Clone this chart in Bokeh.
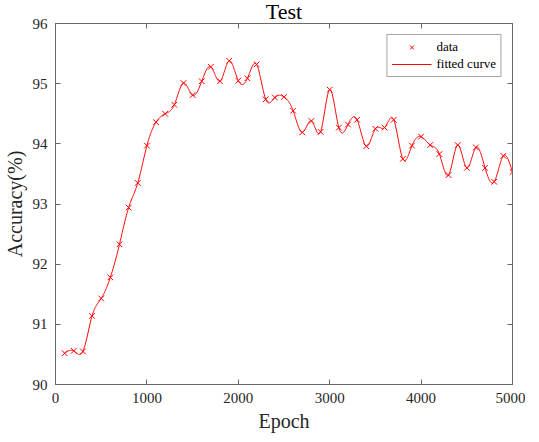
import numpy as np
from bokeh.plotting import figure
from bokeh.models import (LinearAxis, FixedTicker, Range1d, Legend, LegendItem)
from bokeh.embed import file_html
from bokeh.resources import INLINE

# ---- data ----
epochs = [100, 200, 300, 400, 500, 600, 700, 800, 900, 1000,
          1100, 1200, 1300, 1400, 1500, 1600, 1700, 1800, 1900, 2000,
          2100, 2200, 2300, 2400, 2500, 2600, 2700, 2800, 2900, 3000,
          3100, 3200, 3300, 3400, 3500, 3600, 3700, 3800, 3900, 4000,
          4100, 4200, 4300, 4400, 4500, 4600, 4700, 4800, 4900, 5000]
accuracy = [90.52, 90.56, 90.55, 91.14, 91.43, 91.78, 92.33, 92.94, 93.35, 93.97,
            94.36, 94.50, 94.65, 95.01, 94.81, 95.04, 95.28, 95.04, 95.38, 95.05,
            95.09, 95.32, 94.74, 94.77, 94.78, 94.55, 94.19, 94.38, 94.20, 94.90,
            94.27, 94.32, 94.40, 93.96, 94.25, 94.27, 94.40, 93.75, 93.97, 94.12,
            93.98, 93.83, 93.48, 93.98, 93.60, 93.94, 93.60, 93.37, 93.80, 93.53]
x_ticks = [0, 1000, 2000, 3000, 4000, 5000]
y_ticks = [90, 91, 92, 93, 94, 95, 96]
title_text = "Test"


def cubic_spline(x, y, xs):
    """Natural cubic interpolating spline through the data points."""
    x = np.asarray(x, float)
    y = np.asarray(y, float)
    n = len(x)
    h = np.diff(x)
    A = np.zeros((n, n))
    b = np.zeros(n)
    A[0, 0] = 1.0
    A[-1, -1] = 1.0
    for i in range(1, n - 1):
        A[i, i - 1] = h[i - 1]
        A[i, i] = 2 * (h[i - 1] + h[i])
        A[i, i + 1] = h[i]
        b[i] = 3 * ((y[i + 1] - y[i]) / h[i] - (y[i] - y[i - 1]) / h[i - 1])
    c = np.linalg.solve(A, b)
    bc = (y[1:] - y[:-1]) / h - h * (2 * c[:-1] + c[1:]) / 3
    d = (c[1:] - c[:-1]) / (3 * h)
    idx = np.clip(np.searchsorted(x, xs) - 1, 0, n - 2)
    dx = xs - x[idx]
    return y[idx] + bc[idx] * dx + c[idx] * dx ** 2 + d[idx] * dx ** 3


xs = np.linspace(epochs[0], epochs[-1], 981)
ys = cubic_spline(epochs, accuracy, xs)

FONT = "Liberation Serif"
AX = "#6a6a6a"
TXT = "#262626"

p = figure(frame_width=457, frame_height=361, output_backend="svg", toolbar_location=None,
           x_range=Range1d(0, 5000), y_range=Range1d(90, 96),
           min_border_left=53, min_border_right=13, min_border_top=23, min_border_bottom=40,
           x_axis_label="Epoch", y_axis_label="Accuracy(%)")
p.title.text = title_text
p.title.text_font = FONT
p.title.text_font_size = "22px"
p.title.text_font_style = "normal"
p.title.align = "center"
p.title.vertical_align = "top"
p.title.standoff = -4
p.title.text_color = "black"

p.xgrid.visible = False
p.ygrid.visible = False
p.outline_line_color = AX
p.outline_line_width = 1
p.background_fill_color = "white"
p.border_fill_color = "white"

for ax, ticks in ((p.xaxis[0], x_ticks), (p.yaxis[0], y_ticks)):
    ax.ticker = FixedTicker(ticks=ticks)
    ax.major_tick_in = 5
    ax.major_tick_out = 0
    ax.minor_tick_in = 0
    ax.minor_tick_out = 0
    ax.axis_line_color = AX
    ax.major_tick_line_color = AX
    ax.major_label_text_font = FONT
    ax.major_label_text_font_size = "15px"
    ax.major_label_text_color = TXT
    ax.axis_label_text_font = FONT
    ax.axis_label_text_font_size = "20px"
    ax.axis_label_text_font_style = "normal"
    ax.axis_label_text_color = TXT
p.xaxis[0].major_label_standoff = 8
p.xaxis[0].axis_label_standoff = 4
p.yaxis[0].major_label_standoff = 8
p.yaxis[0].axis_label_standoff = 4

for side, ticks in (("right", y_ticks), ("above", x_ticks)):
    ax2 = LinearAxis(ticker=FixedTicker(ticks=ticks))
    ax2.major_tick_in = 5
    ax2.major_tick_out = 0
    ax2.minor_tick_in = 0
    ax2.minor_tick_out = 0
    ax2.major_label_overrides = {t: "" for t in ticks}
    ax2.major_label_text_font_size = "1px"
    ax2.major_label_standoff = 0
    ax2.axis_line_color = AX
    ax2.major_tick_line_color = AX
    p.add_layout(ax2, side)

line = p.line(xs, ys, line_color="#ff0000", line_width=1)
pts = p.scatter(epochs, accuracy, marker="x", size=8, line_color="#ff0000", line_width=1)

legend = Legend(items=[LegendItem(label="data", renderers=[pts]),
                       LegendItem(label="fitted curve", renderers=[line])],
                location="top_right")
legend.label_text_font = FONT
legend.label_text_font_size = "13px"
legend.label_text_color = "black"
legend.border_line_color = "#4a4a4a"
legend.border_line_width = 1
legend.background_fill_alpha = 1
legend.margin = 11
legend.padding = 4
legend.spacing = 1
legend.glyph_width = 40
legend.glyph_height = 14
legend.label_height = 14
legend.label_standoff = 5
p.add_layout(legend, "center")

open("out.html", "w").write(file_html(p, INLINE))
